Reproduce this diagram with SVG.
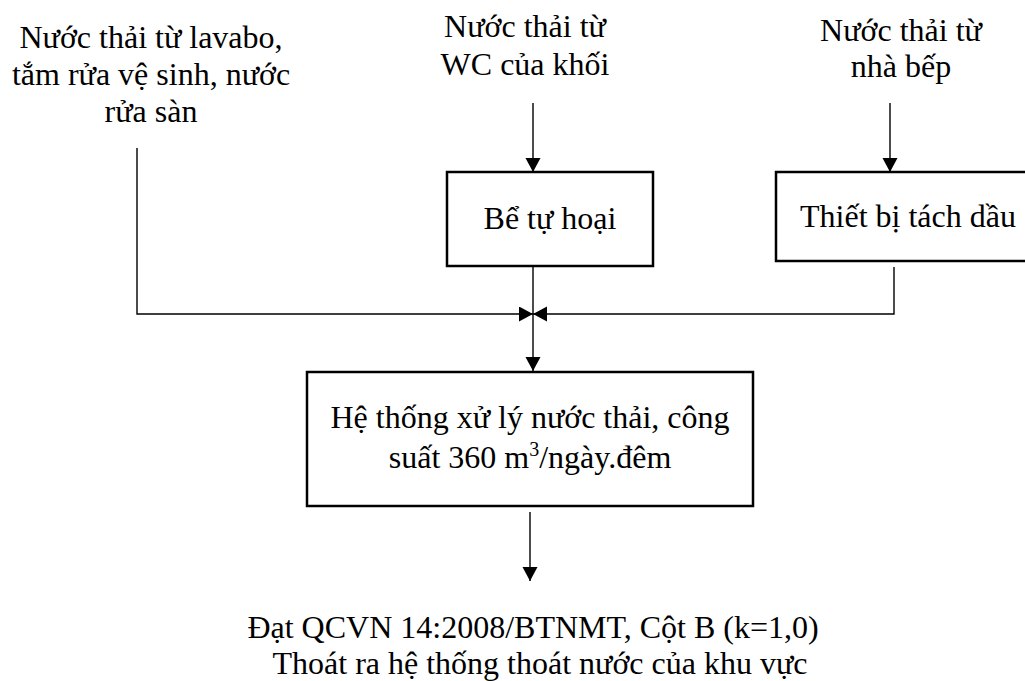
<svg xmlns="http://www.w3.org/2000/svg" width="1025" height="681" viewBox="0 0 1025 681" font-family="Liberation Serif, Times New Roman, Times, serif">
<style>
text{font-size:32px;fill:#000;text-anchor:middle}
.box{fill:#fff;stroke:#000;stroke-width:2.5}
.con{fill:none;stroke:#000;stroke-width:1.4}
</style>
<defs>
<marker id="ah" markerUnits="userSpaceOnUse" markerWidth="15" markerHeight="16" refX="14" refY="7.5" orient="auto" viewBox="0 0 15 16">
<path d="M0,0 L14,7.5 L0,15 z" fill="#000"/>
</marker>
</defs>
<rect width="1025" height="681" fill="#fff"/>
<g id="src-lavabo">
<text x="151" y="48">Nước thải từ lavabo,</text>
<text x="151" y="85">tắm rửa vệ sinh, nước</text>
<text x="151" y="122">rửa sàn</text>
</g>
<g id="src-wc">
<text x="525" y="37">Nước thải từ</text>
<text x="525" y="75">WC của khối</text>
</g>
<g id="src-bep">
<text x="901" y="41">Nước thải từ</text>
<text x="901" y="77">nhà bếp</text>
</g>
<g id="be-tu-hoai">
<rect class="box" x="447" y="172" width="206" height="94"/>
<text x="550" y="229">Bể tự hoại</text>
</g>
<g id="tach-dau">
<rect class="box" x="776" y="172" width="270" height="89"/>
<text x="908" y="227">Thiết bị tách dầu</text>
</g>
<g id="xu-ly">
<rect class="box" x="307" y="372" width="446" height="134"/>
<text x="530" y="428">Hệ thống xử lý nước thải, công</text>
<text x="530" y="468">suất 360 m<tspan font-size="20" dy="-12">3</tspan><tspan dy="12">/ngày.đêm</tspan></text>
</g>
<g id="output">
<text x="533" y="638">Đạt QCVN 14:2008/BTNMT, Cột B (k=1,0)</text>
<text x="540" y="674">Thoát ra hệ thống thoát nước của khu vực</text>
</g>
<g id="connectors">
<path class="con" d="M137,148 V314 H533" marker-end="url(#ah)"/>
<path class="con" d="M894,267 V314 H533" marker-end="url(#ah)"/>
<path class="con" d="M533,103 V172" marker-end="url(#ah)"/>
<path class="con" d="M890,103 V172" marker-end="url(#ah)"/>
<path class="con" d="M533,267 V371" marker-end="url(#ah)"/>
<path class="con" d="M530,512 V581" marker-end="url(#ah)"/>
</g>
</svg>
